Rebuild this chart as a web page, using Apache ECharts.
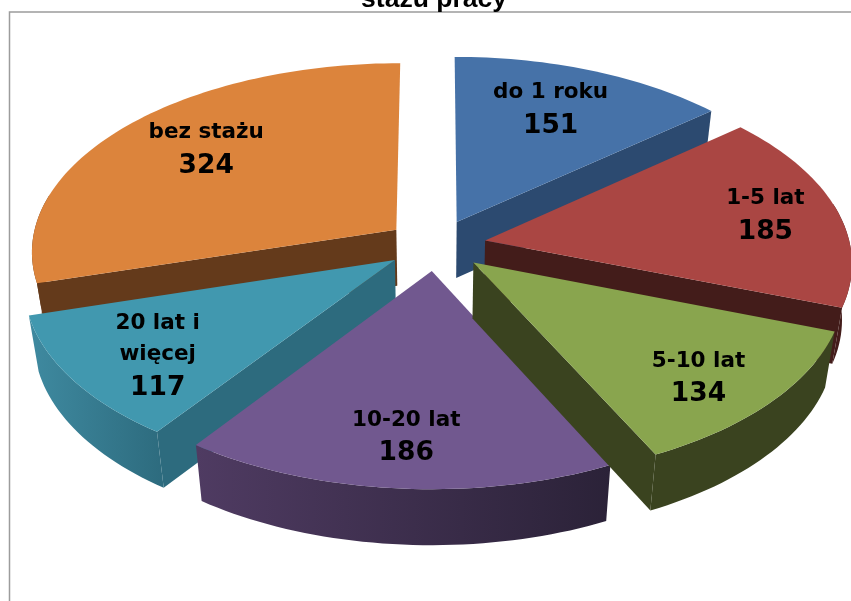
<!DOCTYPE html>
<html><head><meta charset="utf-8">
<style>html,body{margin:0;padding:0;background:#fff}#c{width:851px;height:601px}</style>
<script src="https://cdn.jsdelivr.net/npm/echarts@6/dist/echarts.min.js"></script>
</head><body><div id="c"></div>
<script>
const categories = ['do 1 roku','1-5 lat','5-10 lat','10-20 lat','20 lat i\nwięcej','bez stażu'];
const values = [151,185,134,186,117,324];
const topColors = ['#4672a8','#aa4643','#89a54e','#71588f','#4198af','#dc843c'];
const sideColors = ['#2c4a70','#431c1a','#3a431f','#3f3050','#2d6b7e','#643a1b'];
const wallLeft = ['#2c4a70','#431c1a','#3a431f','#4f3b62','#3f8aa0','#643a1b'];
const wallRight = ['#2c4a70','#431c1a','#3a431f','#2b2238','#2d6b7e','#643a1b'];
const drawRank = [1,2,5,4,3,0];
const titleText = 'stażu pracy';

const total = values.reduce((a,b)=>a+b,0);
const view = {cx:436, cy:245, a:365, b:188, k:0.11, lift:0.137, depth:56, converge:0.024, labelR:0.75,
  labelNudge:[[-10,5],[16,0],[6,14],[0,9],[1,9],[15,0]]};
function project(X,Y,low){
  const s = 1/(1+view.k*Y);
  const x = view.a*X*s, y = -view.b*Y*s;
  const c = low ? 1-view.converge : 1;
  return [view.cx + x*c, view.cy + y + (low?view.depth:0)];
}
function slicePoint(mid,th,r,low){
  return project(view.lift*Math.sin(mid)+r*Math.sin(th), view.lift*Math.cos(mid)+r*Math.cos(th), low);
}
function renderSlice(params, api){
  const i = params.dataIndex;
  let before = 0; for(let j=0;j<i;j++) before += values[j];
  const val = api.value(0);
  const t0 = before/total*2*Math.PI, t1 = (before+val)/total*2*Math.PI, mid=(t0+t1)/2;
  const n = Math.max(8,Math.round((t1-t0)*40));
  const arcTop=[], bandTop=[], bandLow=[];
  for(let q=0;q<=n;q++){
    const th=t0+(t1-t0)*q/n;
    const p=slicePoint(mid,th,1,false);
    arcTop.push(p);
    if(Math.cos(th)<0.2){ bandTop.push(p); bandLow.push(slicePoint(mid,th,1,true)); }
  }
  const apexTop=slicePoint(mid,0,0,false), apexLow=slicePoint(mid,0,0,true);
  const z=drawRank[i]*10;
  const poly=(pts,fill,zz)=>({type:'polygon',shape:{points:pts},style:{fill:fill,stroke:null},z2:z+zz,silent:true});
  const wall={type:'linear',x:0,y:0,x2:1,y2:0,colorStops:[{offset:0,color:wallLeft[i]},{offset:1,color:wallRight[i]}]};
  const lp=slicePoint(mid,mid,view.labelR,false);
  const txt=categories[i].split('\n').map(l=>'{n|'+l+'}').join('\n')+'\n{v|'+val+'}';
  const children=[];
  if(Math.sin(t0)<-1e-6) children.push(poly([apexTop,arcTop[0],slicePoint(mid,t0,1,true),apexLow],sideColors[i],0));
  if(Math.sin(t1)>1e-6) children.push(poly([apexTop,arcTop[n],slicePoint(mid,t1,1,true),apexLow],sideColors[i],0));
  if(bandTop.length>1) children.push(poly(bandTop.concat(bandLow.slice().reverse()),wall,1));
  children.push(poly([apexTop].concat(arcTop),topColors[i],2));
  children.push({type:'text',x:lp[0]+view.labelNudge[i][0],y:lp[1]+view.labelNudge[i][1],z2:200,silent:true,style:{text:txt,align:'center',verticalAlign:'middle',
      rich:{n:{font:'bold 21.5px "DejaVu Sans"',fill:'#000',lineHeight:31,align:'center'},
            v:{font:'bold 26.5px "DejaVu Sans"',fill:'#000',lineHeight:36,align:'center'}}}});
  return {type:'group',children};
}
const chart = echarts.init(document.getElementById('c'),null,{renderer:'canvas'});
chart.setOption({
  animation:false,
  backgroundColor:'#fff',
  title:{text:titleText,left:429,top:-19,textAlign:'center',textStyle:{fontFamily:'Liberation Sans',fontWeight:'bold',fontSize:26.5,color:'#000'}},
  graphic:[{type:'rect',silent:true,z:-1,shape:{x:9.5,y:12,width:860,height:620},style:{fill:'none',stroke:'#9c9c9c',lineWidth:1.5}}],
  series:[{type:'custom',coordinateSystem:'none',renderItem:renderSlice,silent:true,
    data:values.map((v,i)=>({name:categories[i],value:[v]}))}]
});
</script></body></html>
